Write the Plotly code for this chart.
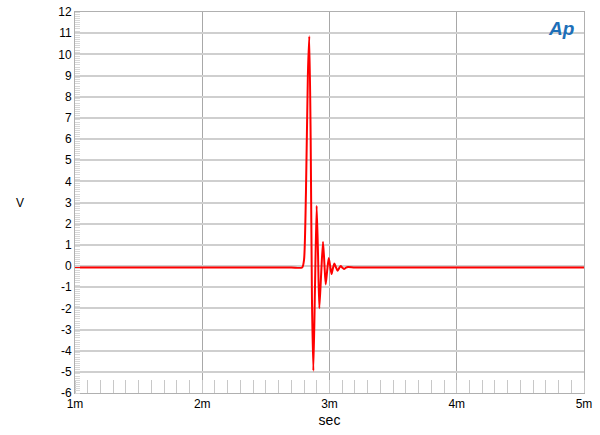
import plotly.graph_objects as go

# impulse response, time in seconds, amplitude in volts
t_sec = [0.0010, 0.0020, 0.0027, 0.002785, 0.002800, 0.002815, 0.002830, 0.002841,
         0.002852, 0.002862, 0.002873, 0.002886, 0.002899, 0.002910, 0.002920,
         0.002935, 0.002949, 0.002960, 0.002970, 0.002982, 0.002994, 0.003005,
         0.003016, 0.003027, 0.003038, 0.003050, 0.003063, 0.003076, 0.003088,
         0.003101, 0.003114, 0.003130, 0.003145, 0.003200, 0.0040, 0.0050]
volts = [-0.07, -0.07, -0.07, -0.07, 0.3, 3.5, 9.0, 10.85,
         6.0, -1.5, -4.95, -1.0, 2.85, 0.5, -2.0,
         -0.3, 1.15, 0.1, -0.87, -0.2, 0.38, 0.0,
         -0.38, -0.1, 0.12, -0.05, -0.22, -0.1, 0.0,
         -0.08, -0.14, -0.08, -0.05, -0.07, -0.07, -0.07]

x_ticks = [0.001, 0.002, 0.003, 0.004, 0.005]
x_labels = ["1m", "2m", "3m", "4m", "5m"]
y_ticks = list(range(-6, 13))
y_labels = [str(v) for v in y_ticks]  # plain hyphen, like the original

fig = go.Figure()

fig.add_trace(go.Scatter(
    x=t_sec, y=volts,
    mode="lines",
    line=dict(color="#ff0000", width=2, shape="spline", smoothing=0.6),
    showlegend=False,
    hoverinfo="skip",
))

fig.update_layout(
    width=600, height=435,
    margin=dict(l=75, r=16, t=12, b=42),
    paper_bgcolor="white",
    plot_bgcolor="white",
    font=dict(family="Liberation Sans, Arial, sans-serif", size=12, color="black"),
    xaxis=dict(
        range=[0.001, 0.005], automargin=False, ticklabeloverflow="allow",
        tickvals=x_ticks, ticktext=x_labels,
        showgrid=True, gridcolor="#a8a8a8", gridwidth=1,
        showline=True, linecolor="#b0b0b0", linewidth=1, mirror=True,
        ticks="", zeroline=False,
        minor=dict(dtick=0.0001, ticks="inside", ticklen=13,
                   tickcolor="#c8c8c8", tickwidth=1, showgrid=False),
        title=dict(text="sec", standoff=4),
    ),
    yaxis=dict(
        range=[-6, 12], automargin=False, ticklabeloverflow="allow",
        tickvals=y_ticks, ticktext=y_labels,
        showgrid=True, gridcolor="#cfcfcf", gridwidth=1.5,
        showline=True, linecolor="#b0b0b0", linewidth=1, mirror=True,
        ticks="", zeroline=False,
        minor=dict(dtick=0.1, ticks="inside", ticklen=5,
                   tickcolor="#d8d8d8", tickwidth=1, showgrid=False),
    ),
    annotations=[
        dict(text="V", x=-0.108, y=0.5, xref="paper", yref="paper",
             xanchor="center", yanchor="middle", showarrow=False, font=dict(size=12)),
        dict(text="<b><i>Ap</i></b>", x=0.985, y=0.99, xref="paper", yref="paper",
             xanchor="right", yanchor="top", showarrow=False,
             font=dict(family="Liberation Sans, Arial", size=19, color="#1d6fb8")),
    ],
)

# drop the browser's default 8px body margin so the figure sits at 0,0
fig.write_html("out.html", config={"displayModeBar": False},
               post_script="document.body.style.margin='0px';")
